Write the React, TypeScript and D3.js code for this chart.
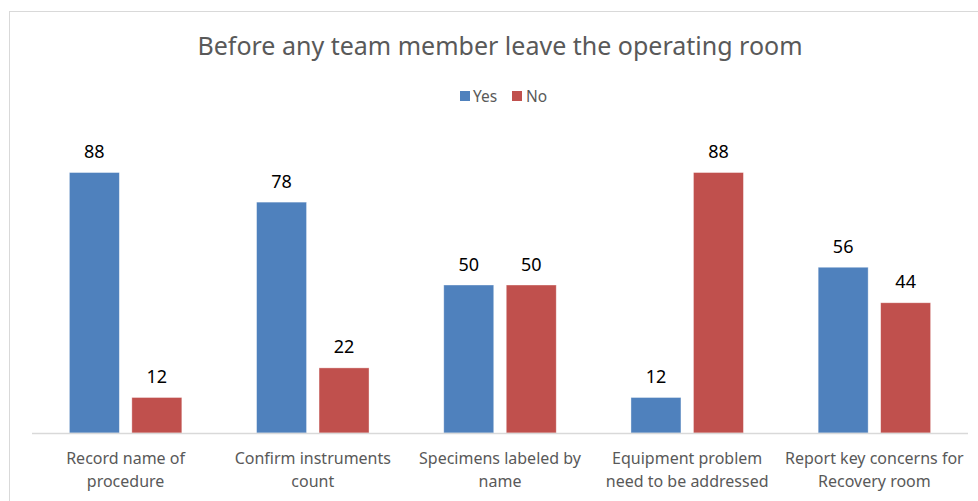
import React from "react";
import * as d3 from "d3";

const categories = [
  "Record name of procedure",
  "Confirm instruments count",
  "Specimens labeled by name",
  "Equipment problem need to be addressed",
  "Report key concerns for Recovery room",
];
const categoryLines = [
  ["Record name of", "procedure"],
  ["Confirm instruments", "count"],
  ["Specimens labeled by", "name"],
  ["Equipment problem", "need to be addressed"],
  ["Report key concerns for", "Recovery room"],
];
const seriesNames = ["Yes", "No"];
const yesValues = [88, 78, 50, 12, 56];
const noValues = [12, 22, 50, 88, 44];
const seriesColors = ["#4F81BD", "#C0504D"];

const W = 978;
const H = 501;
const FONT = "'Noto Sans', 'Open Sans', sans-serif";

export default function App() {
  const x0 = d3.scaleBand<string>().domain(categories).range([32, 968]).padding(0);
  const x1 = d3
    .scaleBand<string>()
    .domain(seriesNames)
    .range([0, x0.bandwidth()])
    .paddingInner(0.2)
    .paddingOuter(0.598);
  const y = d3.scaleLinear().domain([0, 100]).range([433, 137]);
  const values = [yesValues, noValues];

  return (
    <svg
      width={W}
      height={H}
      style={{ position: "absolute", left: 0, top: 0, display: "block", background: "#fff" }}
      fontFamily={FONT}
    >
      <rect x={9.5} y={11.5} width={1000} height={600} fill="#fff" stroke="#D9D9D9" strokeWidth={1} />
      <text x={500} y={55} textAnchor="middle" fontSize={25} fill="#595959">
        Before any team member leave the operating room
      </text>
      {/* legend */}
      <g>
        <rect x={460} y={91} width={10} height={10} fill={seriesColors[0]} />
        <text x={473} y={102} fontSize={15.5} fill="#595959">Yes</text>
        <rect x={512} y={91} width={10} height={10} fill={seriesColors[1]} />
        <text x={526} y={102} fontSize={15.5} fill="#595959">No</text>
      </g>
      {categories.map((c, i) => (
        <g key={c} transform={`translate(${x0(c)},0)`}>
          {seriesNames.map((s, j) => {
            const v = values[j][i];
            const bx = x1(s)!;
            return (
              <g key={s}>
                <rect
                  x={bx}
                  y={y(v)}
                  width={x1.bandwidth()}
                  height={y(0) - y(v)}
                  fill={seriesColors[j]}
                  stroke="#ffffff"
                  strokeOpacity={0.5}
                  strokeWidth={0.75}
                />
                <text
                  x={bx + x1.bandwidth() / 2}
                  y={y(v) - 14.5}
                  textAnchor="middle"
                  fontSize={18}
                  fill="#000"
                >
                  {v}
                </text>
              </g>
            );
          })}
          {categoryLines[i].map((line, k) => (
            <text
              key={k}
              x={x0.bandwidth() / 2}
              y={464 + k * 23}
              textAnchor="middle"
              fontSize={16}
              fill="#595959"
            >
              {line}
            </text>
          ))}
        </g>
      ))}
      <line x1={32} x2={968} y1={433.5} y2={433.5} stroke="#D9D9D9" strokeWidth={1.5} />
    </svg>
  );
}
